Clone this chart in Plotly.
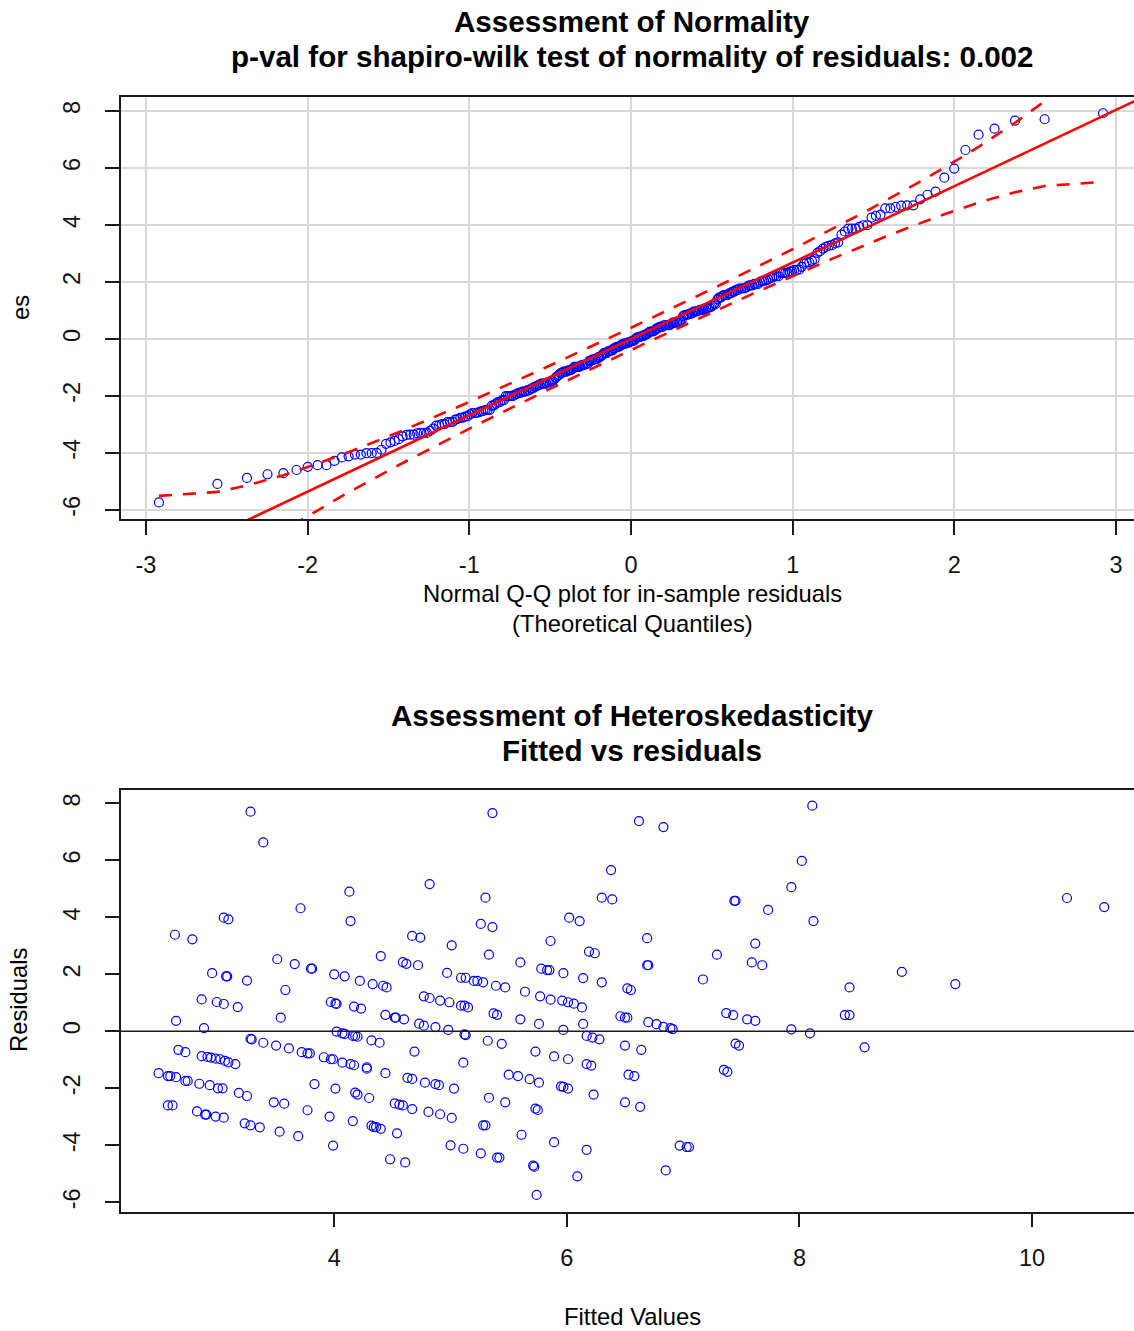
import math
from statistics import NormalDist
import plotly.graph_objects as go

# ---------------- data ----------------
fitted = [
    3.28, 3.39, 4.82, 4.13, 3.71, 3.05, 3.09, 4.14, 2.63, 2.78, 4.67, 4.74, 4.40, 3.51, 3.66, 3.80, 3.81,
    4.59, 4.62, 4.72, 2.95, 3.07, 3.08, 3.25, 4.00, 4.09, 4.22, 4.33, 4.42, 4.45, 3.58, 2.86, 2.99, 3.05,
    3.17, 2.64, 2.88, 3.54, 3.97, 4.01, 4.02, 4.17, 4.23, 4.44, 4.52, 4.53, 4.60, 4.73, 4.77, 4.87, 4.77,
    4.82, 4.91,
    4.02, 4.07, 4.09, 4.16, 4.18, 4.20, 4.32, 4.39, 3.28, 3.29, 3.39, 3.50, 3.61, 3.72, 3.77, 3.79, 3.91,
    3.97, 3.99, 4.07, 4.14, 4.17, 4.28, 4.28, 4.44, 4.69, 4.63, 4.67, 4.78, 4.87, 4.90, 2.66, 2.72,
    2.86, 2.91, 2.94, 2.98, 3.02, 3.06, 3.09, 3.15,
    2.49, 2.57, 2.59, 2.64, 2.72, 2.74, 2.84, 2.93, 3.00, 3.04, 3.18, 3.25, 2.57, 2.61, 2.82, 2.89, 2.90,
    2.98, 3.05, 3.23, 3.28, 3.36, 3.48, 3.57, 3.53, 3.69, 3.83, 4.01, 4.18, 4.20, 4.30, 3.77, 3.96, 4.16,
    3.99, 4.32, 4.34, 4.36, 4.40, 4.54, 4.52, 4.56, 4.59, 4.67, 4.81, 4.91, 4.48, 4.61,
    5.36, 6.62, 6.83, 6.38, 5.30, 6.30, 6.39, 7.44, 7.45, 7.73, 5.26, 5.36, 6.02, 6.11, 5.01, 5.86, 6.69,
    5.33, 6.19, 6.24, 5.60, 7.62, 7.29, 7.59, 7.68, 6.69, 6.70, 7.17, 4.97, 5.09, 5.13, 5.20, 5.23, 5.28,
    5.39, 5.47, 5.78, 5.83, 5.85, 5.97, 6.14, 6.30, 6.52, 6.55, 5.64, 5.77, 5.86, 5.96, 6.01, 6.06, 6.13,
    4.99, 5.09, 5.12, 5.15, 5.37, 5.40, 5.60, 5.76, 6.14, 5.97, 4.98, 5.12, 5.13, 5.32, 5.44, 6.46, 6.50,
    6.52, 6.70, 6.77, 6.83, 6.89, 6.91, 7.37, 7.43, 7.55, 7.62, 6.17, 6.22, 6.28, 6.50, 6.64, 7.45, 7.48,
    5.73, 5.89, 6.01, 6.17, 6.21, 6.53, 6.58, 7.35, 7.38, 5.11, 5.50, 5.58, 5.68, 5.76, 5.95, 5.97, 6.01,
    5.03, 6.23, 5.33, 5.47, 5.73, 5.75, 6.50, 6.63, 5.01, 5.28, 5.30, 5.61, 5.89, 6.17, 5.00, 5.11, 5.26,
    5.40, 5.42, 5.71, 5.72, 6.09, 5.74, 6.97, 7.03, 7.05, 6.85,
    8.11, 8.02, 7.93, 8.12, 8.88, 9.34, 8.43, 8.39, 8.43, 8.09, 8.56, 10.30, 10.62, 7.93,
]
residuals = [
    7.71, 6.63, 5.17, 4.90, 4.32, 3.99, 3.93, 3.87, 3.39, 3.23, 3.35, 3.29, 2.64, 2.53, 2.36, 2.20, 2.20,
    2.43, 2.37, 2.32, 2.04, 1.93, 1.93, 1.78, 2.00, 1.93, 1.77, 1.66, 1.60, 1.54, 1.45, 1.12, 1.03, 0.96,
    0.85, 0.37, 0.11, 0.48, 1.03, 0.98, 0.96, 0.87, 0.80, 0.58, 0.48, 0.48, 0.42, 0.27, 0.20, 0.15, 1.23,
    1.17, 1.08,
    -0.01, -0.07, -0.09, -0.16, -0.16, -0.19, -0.32, -0.40, -0.26, -0.28, -0.40, -0.50, -0.60, -0.73,
    -0.77, -0.77, -0.91, -0.98, -0.98, -1.10, -1.15, -1.19, -1.26, -1.31, -1.47, -0.71, -1.63, -1.67,
    -1.80, -1.85, -1.89, -0.65, -0.73,
    -0.87, -0.90, -0.92, -0.96, -0.98, -1.04, -1.09, -1.15,
    -1.47, -1.57, -1.57, -1.61, -1.74, -1.74, -1.84, -1.89, -2.00, -2.00, -2.16, -2.27, -2.60, -2.60,
    -2.81, -2.92, -2.92, -2.99, -3.03, -3.23, -3.30, -3.37, -2.49, -2.54, -3.52, -3.68, -1.85, -2.01,
    -2.15, -2.22, -2.34, -2.77, -2.99, -3.15, -4.01, -3.31, -3.36, -3.36, -3.42, -3.58, -2.53, -2.57,
    -2.60, -2.73, -2.83, -2.91, -4.49, -4.60,
    7.66, 7.38, 7.17, 5.66, 4.69, 4.69, 4.63, 4.58, 4.58, 4.26, 3.77, 3.66, 3.99, 3.87, 3.02, 3.17, 3.27,
    2.69, 2.80, 2.74, 2.42, 3.08, 2.69, 2.42, 2.32, 2.32, 2.32, 1.82, 2.05, 1.88, 1.88, 1.77, 1.77, 1.72,
    1.60, 1.54, 2.20, 2.15, 2.15, 2.04, 1.87, 1.72, 1.51, 1.45, 1.39, 1.23, 1.11, 1.08, 1.02, 0.97, 0.84,
    1.02, 0.90, 0.90, 0.84, 0.63, 0.58, 0.42, 0.26, 0.26, 0.05, 0.05, -0.11, -0.13, -0.33, -0.44, 0.53,
    0.48, 0.48, 0.32, 0.25, 0.16, 0.11, 0.08, 0.64, 0.57, 0.42, 0.37, -0.16, -0.22, -0.28, -0.50, -0.65,
    -0.43, -0.50, -0.71, -0.88, -0.98, -1.15, -1.20, -1.52, -1.57, -1.35, -1.42, -1.10, -1.52, -1.57,
    -1.68, -1.80, -1.93, -1.95, -2.01, -2.01, -2.22, -2.33, -2.49, -2.71, -2.76, -2.49, -2.65, -3.04,
    -3.30, -3.30, -3.63, -3.89, -4.16, -4.00, -4.12, -4.28, -4.43, -4.43, -4.71, -4.75, -5.09, -5.74,
    -4.01, -4.06, -4.06, -4.88,
    7.92, 5.98, 5.06, 3.87, 2.09, 1.66, 1.54, 0.57, 0.57, -0.07, -0.56, 4.68, 4.36, 0.07,
]

qq_line_intercept = 0.0    # robust reference line
qq_line_slope = 2.68
envelope_level = 0.95

qq_xticks = [-3, -2, -1, 0, 1, 2, 3]
qq_xticktext = ["-3", "-2", "-1", "0", "1", "2", "3"]
res_yticks = [-6, -4, -2, 0, 2, 4, 6, 8]
res_yticktext = ["-6", "-4", "-2", "0", "2", "4", "6", "8"]
fit_xticks = [4, 6, 8, 10]
fit_xticktext = ["4", "6", "8", "10"]

title_top = ["Assessment of Normality",
             "p-val for shapiro-wilk test of normality of residuals: 0.002"]
xlabel_top = ["Normal Q-Q plot for in-sample residuals", "(Theoretical Quantiles)"]
ylabel_top = "es"
title_bottom = ["Assessment of Heteroskedasticity", "Fitted vs residuals"]
xlabel_bottom = "Fitted Values"
ylabel_bottom = "Residuals"

# ---------------- derived Q-Q quantities ----------------
nd = NormalDist()
n = len(residuals)
probs = [(i + 0.5) / n for i in range(n)]
theo = [nd.inv_cdf(p) for p in probs]
sample = sorted(residuals)
zz = nd.inv_cdf(1 - (1 - envelope_level) / 2)
fit_vals = [qq_line_intercept + qq_line_slope * t for t in theo]
se = [(qq_line_slope / nd.pdf(t)) * math.sqrt(p * (1 - p) / n) for t, p in zip(theo, probs)]
upper = [f + zz * s for f, s in zip(fit_vals, se)]
lower = [f - zz * s for f, s in zip(fit_vals, se)]
line_x = [-3.4, 3.4]
line_y = [qq_line_intercept + qq_line_slope * v for v in line_x]

# ---------------- layout helpers ----------------
W, H = 1134, 1331
def px(xp):
    return xp / W
def py(yp):
    return 1 - yp / H

FONT = "Liberation Sans, Arial, sans-serif"
AX = "#1a1a1a"
BLUE = "#0000ff"
RED = "#ff0000"

fig = go.Figure()

fig.add_trace(go.Scatter(
    x=theo, y=sample, mode="markers", xaxis="x", yaxis="y",
    marker=dict(symbol="circle-open", size=9, color=BLUE, line=dict(width=1.2, color=BLUE)),
    hoverinfo="skip"))
fig.add_trace(go.Scatter(
    x=line_x, y=line_y, mode="lines", xaxis="x", yaxis="y",
    line=dict(color=RED, width=2.6), hoverinfo="skip"))
for band in (upper, lower):
    fig.add_trace(go.Scatter(
        x=theo, y=band, mode="lines", xaxis="x", yaxis="y",
        line=dict(color=RED, width=2.6, dash="13px,11px"), hoverinfo="skip"))

fig.add_trace(go.Scatter(
    x=fitted, y=residuals, mode="markers", xaxis="x2", yaxis="y2",
    marker=dict(symbol="circle-open", size=9, color=BLUE, line=dict(width=1.2, color=BLUE)),
    hoverinfo="skip"))

tickfont = dict(family=FONT, size=23.5, color="#111")
common_x = dict(ticks="outside", ticklen=14, tickwidth=1.5, tickcolor=AX, showline=True,
                linecolor=AX, linewidth=1.5, mirror=True, zeroline=False, tickfont=tickfont,
                ticklabelstandoff=10)
common_y = dict(ticks="outside", ticklen=14, tickwidth=1.5, tickcolor=AX, showline=True,
                linecolor=AX, linewidth=1.5, mirror=False, zeroline=False, tickfont=tickfont,
                tickangle=-90, ticklabelstandoff=16)

fig.update_layout(
    width=W, height=H, margin=dict(l=0, r=0, t=0, b=0),
    paper_bgcolor="white", plot_bgcolor="white", showlegend=False,
    xaxis=dict(domain=[px(120.7), 1.0], anchor="y", range=[-3.156, 3.111],
               tickmode="array", tickvals=qq_xticks, ticktext=qq_xticktext,
               showgrid=True, gridcolor="#d9d9d9", gridwidth=1.5, **common_x),
    yaxis=dict(domain=[py(519), py(97.3)], anchor="x", range=[-6.32, 8.48],
               tickmode="array", tickvals=res_yticks, ticktext=res_yticktext,
               showgrid=True, gridcolor="#d9d9d9", gridwidth=1.5, **common_y),
    xaxis2=dict(domain=[px(120.7), 1.0], anchor="y2", range=[2.164, 10.876],
                tickmode="array", tickvals=fit_xticks, ticktext=fit_xticktext,
                showgrid=False, **common_x),
    yaxis2=dict(domain=[py(1211.7), py(790)], anchor="x2", range=[-6.33, 8.47],
                tickmode="array", tickvals=res_yticks, ticktext=res_yticktext,
                showgrid=False, **common_y),
)

fig.add_shape(type="line", xref="paper", yref="y2", x0=px(120.7), x1=1.0, y0=0, y1=0,
              line=dict(color=AX, width=1.5), layer="above")

def ann(text, xp, yp, size, bold=False, angle=0):
    fig.add_annotation(text=("<b>%s</b>" % text) if bold else text,
                       xref="paper", yref="paper", x=px(xp), y=py(yp),
                       xanchor="center", yanchor="middle", showarrow=False, textangle=angle,
                       font=dict(family=FONT, size=size, color="#000"))

TX = 632
ann(title_top[0], TX, 22, 29.6, bold=True)
ann(title_top[1], TX, 57, 29.6, bold=True)
ann(xlabel_top[0], TX, 593, 23.8)
ann(xlabel_top[1], TX, 624, 23.8)
ann(ylabel_top, 20, 308, 23.8, angle=-90)
ann(title_bottom[0], TX, 715, 29.6, bold=True)
ann(title_bottom[1], TX, 750, 29.6, bold=True)
ann(xlabel_bottom, TX, 1316, 23.8)
ann(ylabel_bottom, 18, 1000, 23.8, angle=-90)

fig.write_html("out.html")
